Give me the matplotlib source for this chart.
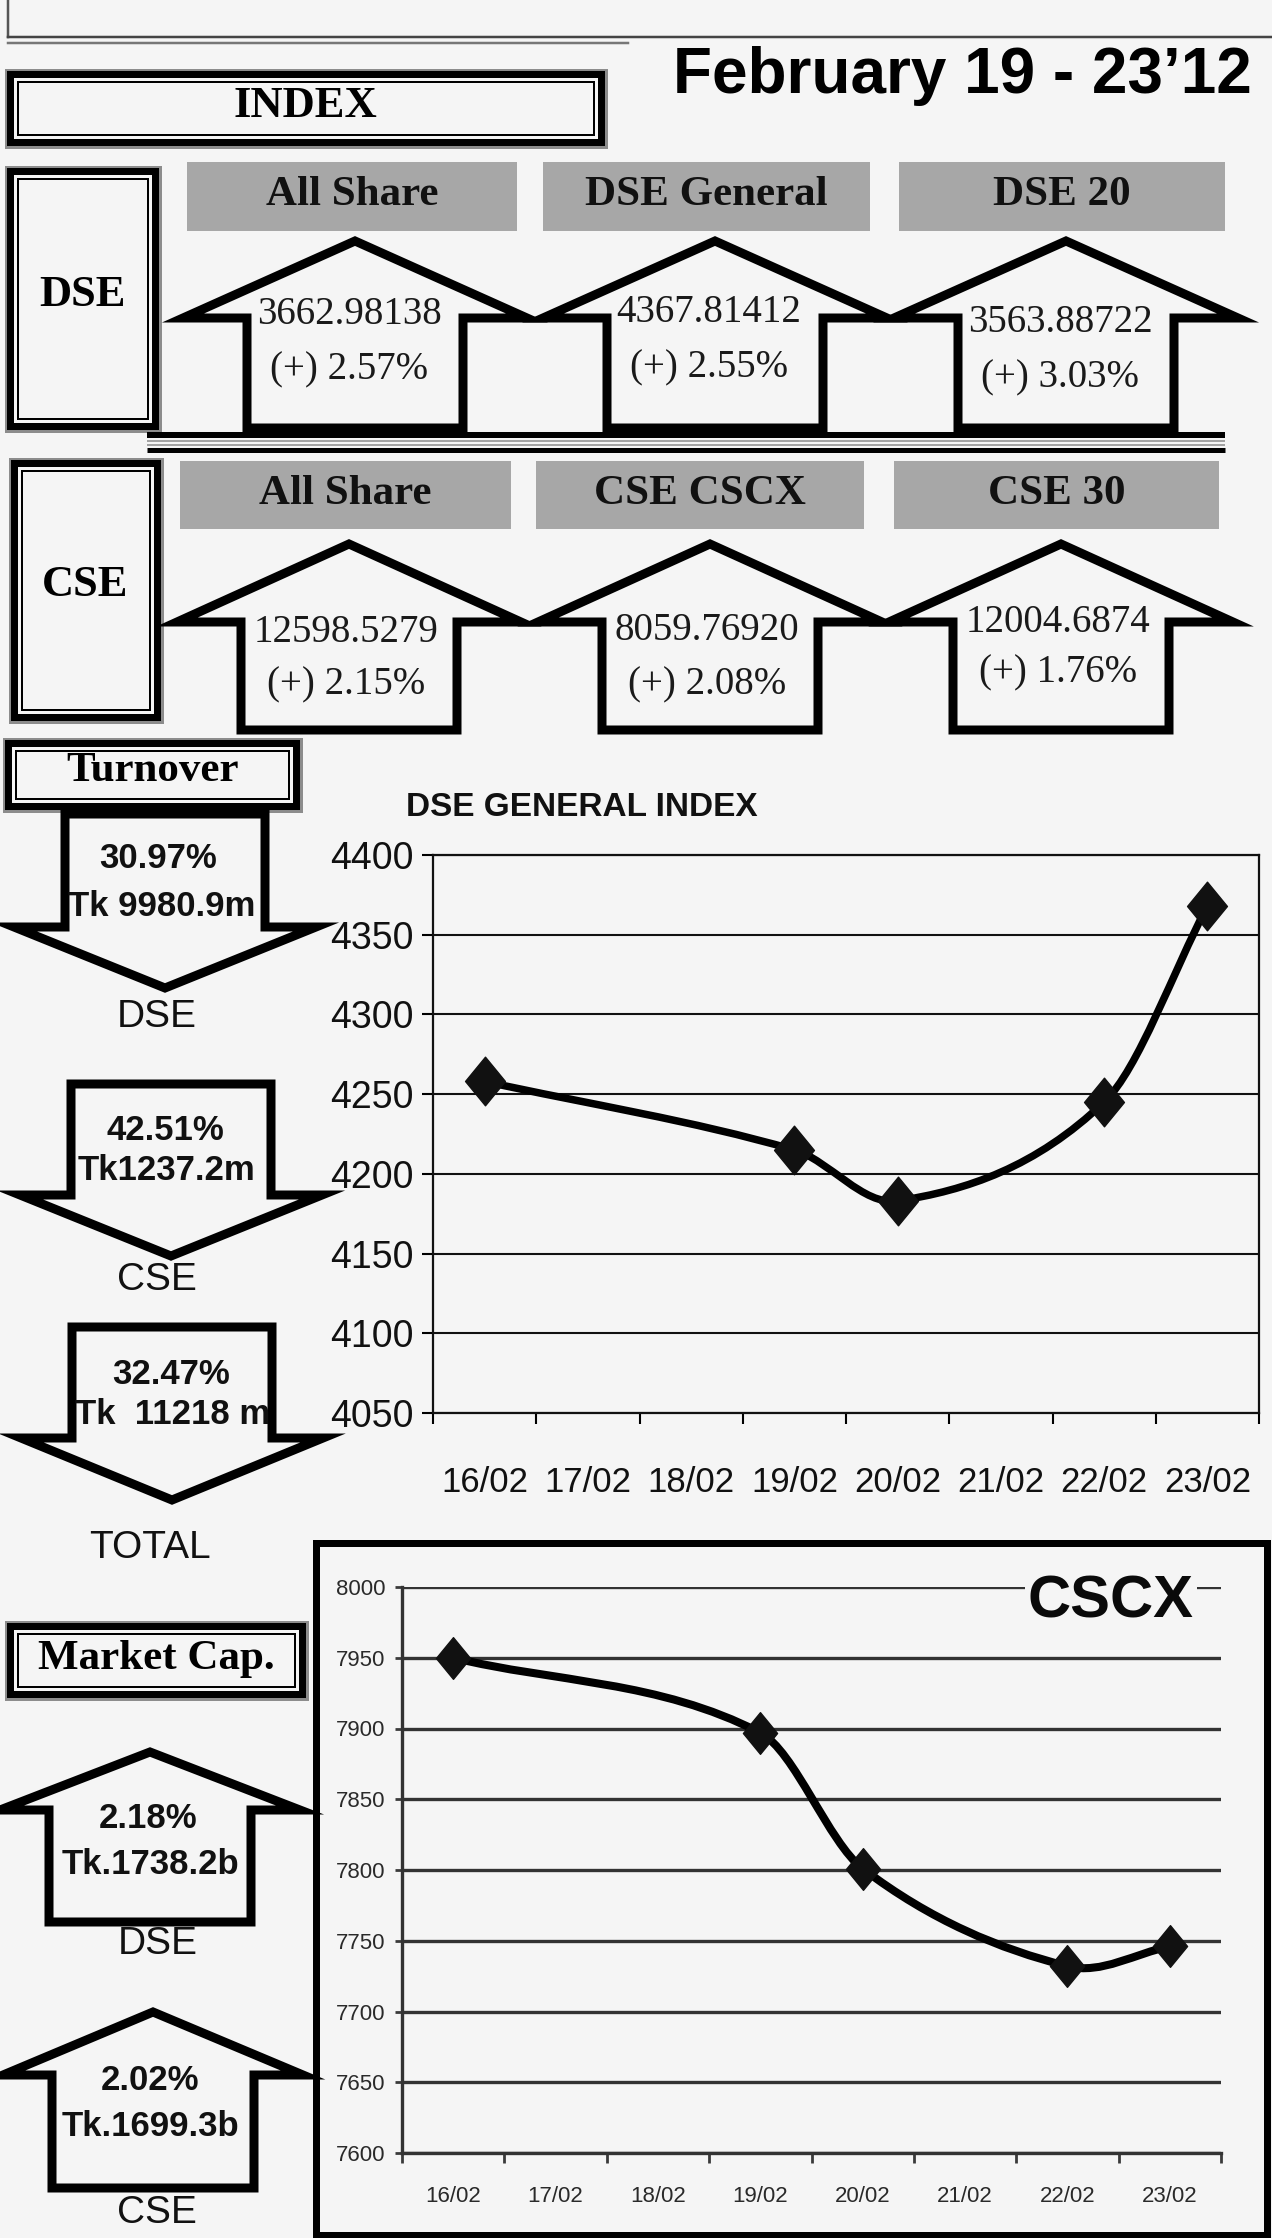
import numpy as np
import matplotlib
matplotlib.use('Agg')
import matplotlib.pyplot as plt
from matplotlib.patches import Polygon, Rectangle, PathPatch
from matplotlib.path import Path

# ---------------- data ----------------
header_text = 'February 19 - 23\u201912'
dse_index_names = ['All Share', 'DSE General', 'DSE 20']
dse_index_values = ['3662.98138', '4367.81412', '3563.88722']
dse_index_changes = ['(+) 2.57%', '(+) 2.55%', '(+) 3.03%']
cse_index_names = ['All Share', 'CSE CSCX', 'CSE 30']
cse_index_values = ['12598.5279', '8059.76920', '12004.6874']
cse_index_changes = ['(+) 2.15%', '(+) 2.08%', '(+) 1.76%']
turnover_labels = ['DSE', 'CSE', 'TOTAL']
turnover_pct = ['30.97%', '42.51%', '32.47%']
turnover_amt = ['Tk 9980.9m', 'Tk1237.2m', 'Tk  11218 m']
mcap_labels = ['DSE', 'CSE']
mcap_pct = ['2.18%', '2.02%']
mcap_amt = ['Tk.1738.2b', 'Tk.1699.3b']
date_categories = ['16/02', '17/02', '18/02', '19/02', '20/02', '21/02', '22/02', '23/02']
dse_gen_dates = ['16/02', '19/02', '20/02', '22/02', '23/02']
dse_gen_values = [4258, 4215, 4183, 4245, 4368]
dse_gen_ticks = [4050, 4100, 4150, 4200, 4250, 4300, 4350, 4400]
cscx_dates = ['16/02', '19/02', '20/02', '22/02', '23/02']
cscx_values = [7950, 7897, 7801, 7732, 7746]
cscx_ticks = [7600, 7650, 7700, 7750, 7800, 7850, 7900, 7950, 8000]

# ---------------- setup ----------------
W, H = 1272, 2238
BG = '#f5f5f5'
GRAY_BOX = '#a7a7a7'
PT = 0.72  # px -> pt at dpi 100
SERIF = ['Liberation Serif', 'DejaVu Serif']
SANS = ['Liberation Sans', 'DejaVu Sans']

fig = plt.figure(figsize=(W / 100, H / 100), dpi=100, facecolor=BG)
ax0 = fig.add_axes([0, 0, 1, 1])
ax0.set_xlim(0, W)
ax0.set_ylim(H, 0)
ax0.axis('off')
ax0.set_facecolor(BG)


def T(x, y, s, size, family, weight='normal', ha='center', va='center', **kw):
    ax0.text(x, y, s, fontsize=size, family=family, fontweight=weight,
             ha=ha, va=va, **kw)


def frame_box(x0, y0, x1, y1):
    for inset, lw_px, col in [(1.5, 3, '#8c8c8c'), (6, 7, 'black'), (13.5, 2, 'black')]:
        ax0.add_patch(Rectangle((x0 + inset, y0 + inset), x1 - x0 - 2 * inset,
                                y1 - y0 - 2 * inset, fill=False, lw=lw_px * PT,
                                ec=col, joinstyle='miter'))


def up_arrow(cx, y_peak, y_wing, y_bot, hw, hb, lw_px=9):
    pts = [(cx - hw, y_wing), (cx, y_peak), (cx + hw, y_wing), (cx + hb, y_wing),
           (cx + hb, y_bot), (cx - hb, y_bot), (cx - hb, y_wing)]
    ax0.add_patch(Polygon(pts, closed=True, fill=False, ec='black',
                          lw=lw_px * PT, joinstyle='miter'))


def down_arrow(cx, y_top, y_wing, y_tip, hw, hb, lw_px=9):
    pts = [(cx - hb, y_top), (cx + hb, y_top), (cx + hb, y_wing), (cx + hw, y_wing),
           (cx, y_tip), (cx - hw, y_wing), (cx - hb, y_wing)]
    ax0.add_patch(Polygon(pts, closed=True, fill=False, ec='black',
                          lw=lw_px * PT, joinstyle='miter'))


def smooth_line(ax, xs, ys, **kw):
    """Smoothed line (cubic Hermite in x) drawn through the data points."""
    x = np.asarray(xs, float)
    y = np.asarray(ys, float)
    n = len(x)
    m = np.zeros(n)
    for i in range(n):
        if i == 0:
            m[i] = (y[1] - y[0]) / (x[1] - x[0])
        elif i == n - 1:
            m[i] = (y[-1] - y[-2]) / (x[-1] - x[-2])
        else:
            m[i] = (y[i + 1] - y[i - 1]) / (x[i + 1] - x[i - 1])
    verts = [(x[0], y[0])]
    codes = [Path.MOVETO]
    for i in range(n - 1):
        d = (x[i + 1] - x[i]) / 3.0
        verts += [(x[i] + d, y[i] + m[i] * d), (x[i + 1] - d, y[i + 1] - m[i + 1] * d),
                  (x[i + 1], y[i + 1])]
        codes += [Path.CURVE4] * 3
    ax.add_patch(PathPatch(Path(verts, codes), fill=False, capstyle='round',
                           joinstyle='round', **kw))


DIAMOND = Path([(0, 1), (0.82, 0), (0, -1), (-0.82, 0), (0, 1)],
               [Path.MOVETO, Path.LINETO, Path.LINETO, Path.LINETO, Path.CLOSEPOLY])

# ---------------- header ----------------
ax0.plot([8, 8], [0, 37], color='#555555', lw=2.5 * PT)
ax0.plot([8, W], [37, 37], color='#444444', lw=2.5 * PT)
ax0.plot([8, 628], [43, 43], color='#777777', lw=2.5 * PT)
T(962, 93, header_text, 46, SANS, 'bold', va='baseline')

frame_box(4, 68, 607, 148)
T(305, 106, 'INDEX', 32, SERIF, 'bold')

# ---------------- index section ----------------
frame_box(4, 165, 161, 432)
T(83, 295, 'DSE', 32, SERIF, 'bold')
frame_box(8, 457, 163, 723)
T(85, 585, 'CSE', 32, SERIF, 'bold')

# separator double line
ax0.plot([147, 1225], [435, 435], color='black', lw=6 * PT, solid_capstyle='butt')
ax0.plot([147, 1225], [441, 441], color='#888888', lw=1.5 * PT, solid_capstyle='butt')
ax0.plot([147, 1225], [445, 445], color='#888888', lw=1.5 * PT, solid_capstyle='butt')
ax0.plot([147, 1225], [450, 450], color='black', lw=5 * PT, solid_capstyle='butt')

dse_boxes = [(187, 517), (543, 870), (899, 1225)]
cse_boxes = [(180, 511), (536, 864), (894, 1219)]
dse_cx = [355, 715, 1066]
cse_cx = [349, 710, 1061]
dse_val_y = [315, 313, 323]
dse_pct_y = [370, 368, 378]
cse_val_y = [632, 630, 622]
cse_pct_y = [685, 685, 673]

for i, name in enumerate(dse_index_names):
    x0, x1 = dse_boxes[i]
    ax0.add_patch(Rectangle((x0, 162), x1 - x0, 69, fc=GRAY_BOX, ec='none'))
    T((x0 + x1) / 2, 195, name, 31, SERIF, 'bold', color='#111111')
    up_arrow(dse_cx[i], 241, 318, 428, 172, 108)
    T(dse_cx[i] - 6, dse_val_y[i], dse_index_values[i], 28, SERIF, color='#1a1a1a')
    T(dse_cx[i] - 6, dse_pct_y[i], dse_index_changes[i], 28, SERIF, color='#1a1a1a')

for i, name in enumerate(cse_index_names):
    x0, x1 = cse_boxes[i]
    ax0.add_patch(Rectangle((x0, 461), x1 - x0, 68, fc=GRAY_BOX, ec='none'))
    T((x0 + x1) / 2, 494, name, 31, SERIF, 'bold', color='#111111')
    up_arrow(cse_cx[i], 544, 622, 730, 172, 108)
    T(cse_cx[i] - 3, cse_val_y[i], cse_index_values[i], 28, SERIF, color='#1a1a1a')
    T(cse_cx[i] - 3, cse_pct_y[i], cse_index_changes[i], 28, SERIF, color='#1a1a1a')

# ---------------- turnover ----------------
frame_box(2, 737, 302, 812)
T(153, 771, 'Turnover', 31, SERIF, 'bold')

turn_geom = [  # cx, top, wing, tip
    (165, 814, 927, 988),
    (171, 1084, 1195, 1256),
    (172, 1327, 1438, 1500),
]
turn_text = [  # pct (x,y), amt (x,y), label (x,y)
    ((158, 858), (162, 906), (157, 1017)),
    ((165, 1130), (166, 1171), (157, 1280)),
    ((171, 1375), (173, 1415), (150, 1548)),
]
for i in range(3):
    cx, yt, yw, ytip = turn_geom[i]
    down_arrow(cx, yt, yw, ytip, 151, 100)
    (px, py), (ax_, ay), (lx, ly) = turn_text[i]
    T(px, py, turnover_pct[i], 25, SANS, 'bold', color='#111111')
    T(ax_, ay, turnover_amt[i], 25, SANS, 'bold', color='#111111')
    T(lx, ly, turnover_labels[i], 28, SANS, color='#111111')

# ---------------- market cap ----------------
frame_box(4, 1620, 308, 1700)
T(156, 1659, 'Market Cap.', 31, SERIF, 'bold')

mcap_geom = [  # cx, peak, wing, bottom
    (150, 1752, 1810, 1922),
    (153, 2012, 2075, 2188),
]
mcap_text = [
    ((148, 1819), (150, 1864), (158, 1944)),
    ((150, 2081), (150, 2127), (157, 2213)),
]
for i in range(2):
    cx, yp, yw, yb = mcap_geom[i]
    up_arrow(cx, yp, yw, yb, 150, 101)
    (px, py), (ax_, ay), (lx, ly) = mcap_text[i]
    T(px, py, mcap_pct[i], 25, SANS, 'bold', color='#111111')
    T(ax_, ay, mcap_amt[i], 25, SANS, 'bold', color='#111111')
    T(lx, ly, mcap_labels[i], 28, SANS, color='#111111')

# ---------------- DSE general index chart ----------------
T(406, 808, 'DSE GENERAL INDEX', 24, SANS, 'bold', ha='left', color='#111111')

L, R, TOP, BOT = 433, 1259, 855, 1413
ax1 = fig.add_axes([L / W, 1 - BOT / H, (R - L) / W, (BOT - TOP) / H])
ax1.set_facecolor('none')
ax1.set_xlim(0, len(date_categories))
ax1.set_ylim(dse_gen_ticks[0], dse_gen_ticks[-1])
ax1.set_yticks(dse_gen_ticks)
ax1.set_yticklabels([str(t) for t in dse_gen_ticks], family=SANS, fontsize=27,
                    color='#111111')
ax1.set_xticks(np.arange(len(date_categories) + 1))
ax1.set_xticklabels([])
ax1.set_xticks(np.arange(len(date_categories)) + 0.5, minor=True)
ax1.set_xticklabels(date_categories, minor=True, family=SANS, fontsize=25,
                    color='#111111')
ax1.tick_params(axis='y', length=8, width=1.5, pad=6, direction='out')
ax1.tick_params(axis='x', which='major', length=8, width=1.5, direction='out')
ax1.tick_params(axis='x', which='minor', length=0, pad=38)
ax1.yaxis.grid(True, color='#111111', lw=1.5)
ax1.set_axisbelow(True)
for s in ax1.spines.values():
    s.set_color('#111111')
    s.set_linewidth(1.6)
xs1 = [date_categories.index(d) + 0.5 for d in dse_gen_dates]
smooth_line(ax1, xs1, dse_gen_values, ec='black', lw=5.4, zorder=3)
ax1.plot(xs1, dse_gen_values, ls='none', marker=DIAMOND, markersize=35,
         color='#111111', mec='#111111', zorder=4, clip_on=False)

# ---------------- CSCX chart ----------------
ax0.add_patch(Rectangle((316, 1543), 1267 - 316, 2235 - 1543, fill=False,
                        ec='black', lw=7 * PT))
L2, R2, TOP2, BOT2 = 402, 1221, 1587, 2153
ax2 = fig.add_axes([L2 / W, 1 - BOT2 / H, (R2 - L2) / W, (BOT2 - TOP2) / H])
ax2.set_facecolor('none')
ax2.set_xlim(0, len(date_categories))
ax2.set_ylim(cscx_ticks[0], cscx_ticks[-1])
ax2.set_yticks(cscx_ticks)
ax2.set_yticklabels([str(t) for t in cscx_ticks], family=SANS, fontsize=16,
                    color='#2a2a2a')
ax2.set_xticks(np.arange(len(date_categories) + 1))
ax2.set_xticklabels([])
ax2.set_xticks(np.arange(len(date_categories)) + 0.5, minor=True)
ax2.set_xticklabels(date_categories, minor=True, family=SANS, fontsize=16,
                    color='#2a2a2a')
ax2.tick_params(axis='y', length=5, width=2, pad=7, color='#3a3a3a')
ax2.tick_params(axis='x', which='major', length=7, width=2, color='#3a3a3a')
ax2.tick_params(axis='x', which='minor', length=0, pad=24)
ax2.yaxis.grid(True, color='#333333', lw=2.4)
ax2.set_axisbelow(True)
ax2.spines['top'].set_visible(False)
ax2.spines['right'].set_visible(False)
for s in ['left', 'bottom']:
    ax2.spines[s].set_color('#333333')
    ax2.spines[s].set_linewidth(2.4)
xs2 = [date_categories.index(d) + 0.5 for d in cscx_dates]
smooth_line(ax2, xs2, cscx_values, ec='black', lw=5.8, zorder=3)
ax2.plot(xs2, cscx_values, ls='none', marker=DIAMOND, markersize=30,
         color='#111111', mec='#111111', zorder=4, clip_on=False)
ax2.text(1111, 1602, 'CSCX', transform=ax0.transData, fontsize=43, family=SANS,
         fontweight='bold', ha='center', va='center', color='#0a0a0a', zorder=10,
         bbox=dict(fc=BG, ec='none', pad=2))

fig.savefig('out.png', dpi=100, facecolor=BG)
